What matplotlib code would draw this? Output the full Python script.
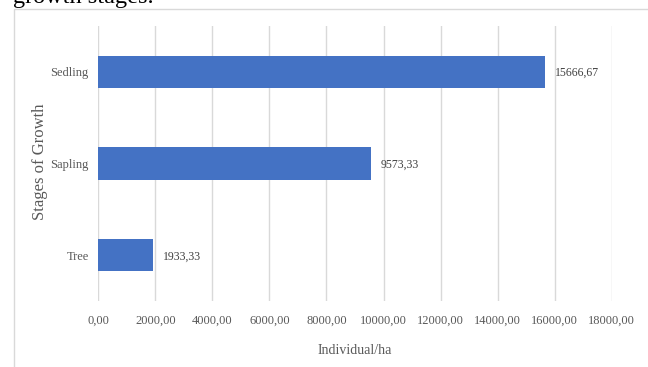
import matplotlib
matplotlib.use("Agg")
import matplotlib.pyplot as plt
from matplotlib.patches import Rectangle

# Data
stages = ["Tree", "Sapling", "Sedling"]
density = [1933.33, 9573.33, 15666.67]
x_ticks = [0, 2000, 4000, 6000, 8000, 10000, 12000, 14000, 16000, 18000]

W, H = 648, 367
fig = plt.figure(figsize=(W / 100, H / 100), dpi=100)
plt.rcParams["font.family"] = ["Liberation Serif", "DejaVu Serif"]

grey = "#595959"
bar_color = "#4472C4"

# Caption line from the page above the chart (partly cut off)
fig.text(13 / W, 1 - 3 / H, "growth stages.", fontsize=17.5, color="black",
         ha="left", va="baseline")

# Chart frame
fig.patches.append(Rectangle((14 / W, -0.1), 1.2, 1 - 9 / H + 0.1,
                             transform=fig.transFigure, fill=False,
                             edgecolor="#d9d9d9", linewidth=1.0))

ax = fig.add_axes([98.3 / W, 1 - 301 / H, (611.7 - 98.3) / W, (301 - 26) / H])

ypos = list(range(len(stages)))
ax.barh(ypos, density, height=0.35, color=bar_color, zorder=3)

for y, v in zip(ypos, density):
    ax.annotate(f"{v:.2f}".replace(".", ","), (v, y), xytext=(7, -1),
                textcoords="offset points", ha="left", va="center",
                fontsize=8.5, color="#404040")

ax.set_xlim(0, 18000)
ax.set_ylim(-0.5, len(stages) - 0.5)
ax.set_xticks(x_ticks)
ax.set_xticklabels([f"{t:.2f}".replace(".", ",") for t in x_ticks])
ax.set_yticks(ypos)
ax.set_yticklabels(stages)
ax.tick_params(axis="both", length=0, labelsize=9, labelcolor=grey)
ax.tick_params(axis="x", pad=10)
ax.tick_params(axis="y", pad=7)

ax.grid(axis="x", color="#d9d9d9", linewidth=1.0, zorder=0)
for s in ax.spines.values():
    s.set_visible(False)

ax.set_xlabel("Individual/ha", fontsize=10, color=grey)
ax.xaxis.set_label_coords(0.5, -(350 - 301) / 275)
ax.xaxis.label.set_va("center")
ax.set_ylabel("Stages of Growth", fontsize=12, color=grey)
ax.yaxis.set_label_coords(-(98.3 - 40) / 513.4, (301 - 162) / 275)
ax.yaxis.label.set_va("center")

fig.savefig("out.png", dpi=100)
